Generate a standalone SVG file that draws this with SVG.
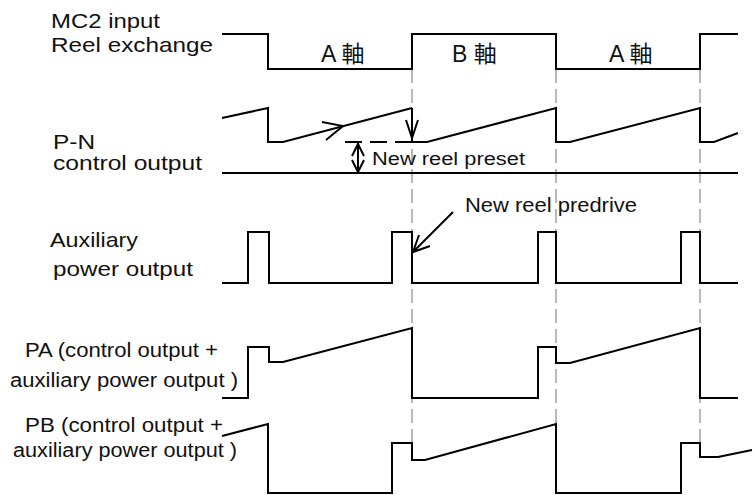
<svg xmlns="http://www.w3.org/2000/svg" width="755" height="495" viewBox="0 0 755 495">
<style>
.t{font-family:"Liberation Sans","Noto Sans CJK JP",Arial,sans-serif;font-size:21px;fill:#111}
.s{font-size:20px}
.ax{font-size:23px}
.sig{fill:none;stroke:#000;stroke-width:2;stroke-linejoin:miter}
.dash{fill:none;stroke:#888;stroke-width:1.2;stroke-dasharray:14,6}
.arr{fill:none;stroke:#000;stroke-width:2}
</style>
<rect width="755" height="495" fill="#fff"/>
<g id="guides">
<path class="dash" d="M412,69 V460 M556,69 V424 M700,69 V443"/>
</g>
<g id="mc2">
<text class="t" x="51" y="28" textLength="109" lengthAdjust="spacingAndGlyphs">MC2 input</text>
<text class="t" x="51" y="52" textLength="162" lengthAdjust="spacingAndGlyphs">Reel exchange</text>
<path class="sig" d="M222,34 H268 V69 H412 V34 H556 V69 H700 V34 H738"/>
<text class="t ax" x="321" y="62">A 軸</text>
<text class="t ax" x="452" y="62">B 軸</text>
<text class="t ax" x="609" y="62">A 軸</text>
</g>
<g id="pn">
<text class="t" x="53" y="149" textLength="42" lengthAdjust="spacingAndGlyphs">P-N</text>
<text class="t" x="53" y="170" textLength="149" lengthAdjust="spacingAndGlyphs">control output</text>
<path class="sig" d="M222,118 L268,108 V142 H283 L412,108"/>
<path class="sig" d="M412,142 H427 L556,108 V142 H570 L700,108 V142 H714 L738,133"/>
<path class="sig" d="M222,173 H738"/>
<path class="sig" stroke-dasharray="17,8" d="M345,142 H412"/>
<text class="t" style="font-size:18px" x="372" y="165" textLength="153" lengthAdjust="spacingAndGlyphs">New reel preset</text>
</g>
<g id="aux">
<text class="t" x="50" y="247" textLength="88" lengthAdjust="spacingAndGlyphs">Auxiliary</text>
<text class="t" x="53" y="276" textLength="140" lengthAdjust="spacingAndGlyphs">power output</text>
<path class="sig" d="M222,283 H248 V232 H269 V283 H392 V232 H412 V283 H538 V232 H556 V283 H681 V232 H700 V283 H738"/>
<text class="t" x="465" y="212" textLength="172" lengthAdjust="spacingAndGlyphs">New reel predrive</text>
</g>
<g id="pa">
<text class="t s" x="25" y="357" textLength="193" lengthAdjust="spacingAndGlyphs">PA (control output +</text>
<text class="t s" x="10" y="387" textLength="228" lengthAdjust="spacingAndGlyphs">auxiliary power output )</text>
<path class="sig" d="M222,398 H248 V347 H269 V362 H283 L412,328 V398 H538 V347 H556 V363 H570 L700,328 V398 H738"/>
</g>
<g id="pb">
<text class="t s" x="25" y="432" textLength="198" lengthAdjust="spacingAndGlyphs">PB (control output  +</text>
<text class="t s" x="13" y="457" textLength="224" lengthAdjust="spacingAndGlyphs">auxiliary power output )</text>
<path class="sig" d="M222,436 L268,424 V493 H392 V443 H412 V460 H425 L556,424 V493 H681 V443 H700 V457 H718 L752,450"/>
</g>
<g id="connectors">
<path class="arr" d="M322,122 L343,126 L326,140"/>
<path class="arr" d="M412,108 V142 M406,120 L412,138 L418,120"/>
<path class="arr" d="M358,143 V173 M352,156 L358,144 L364,156 M352,160 L358,172 L364,160"/>
<path class="arr" d="M453,212 L413,252 M419,235 L413,252 L430,246"/>
</g>
</svg>
